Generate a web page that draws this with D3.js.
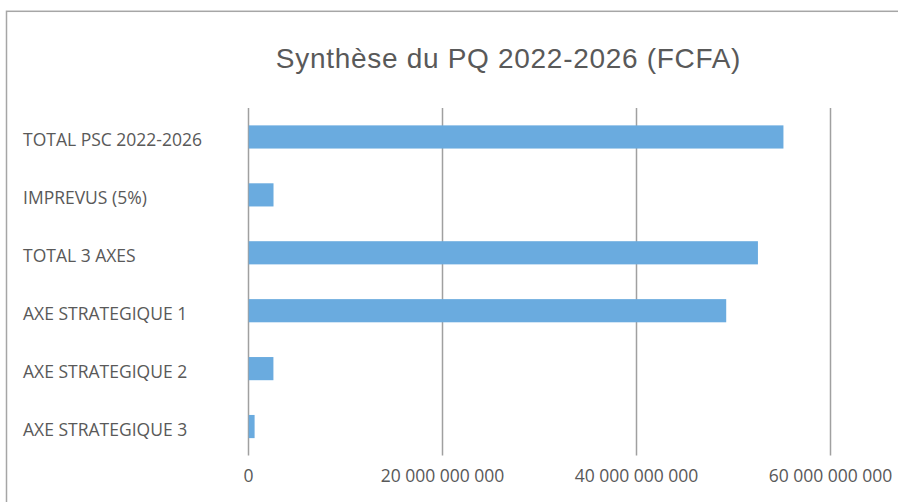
<!DOCTYPE html>
<html>
<head>
<meta charset="utf-8">
<script src="https://cdn.jsdelivr.net/npm/d3@7"></script>
<style>
  html, body { margin: 0; padding: 0; background: #ffffff; }
  svg { display: block; }
</style>
</head>
<body>
<svg id="chart" width="898" height="502"></svg>
<script>
// Budget synthesis of the 2022-2026 plan, in FCFA
const categories = [
  "TOTAL PSC 2022-2026",
  "IMPREVUS (5%)",
  "TOTAL 3 AXES",
  "AXE STRATEGIQUE 1",
  "AXE STRATEGIQUE 2",
  "AXE STRATEGIQUE 3"
];
const amounts = [55.2e9, 2.63e9, 52.57e9, 49.3e9, 2.62e9, 0.68e9];
const tickValues = [0, 20e9, 40e9, 60e9];
const titleText = "Synthèse du PQ 2022-2026 (FCFA)";

const svg = d3.select("#chart");
const textColor = "#595959";
const gridColor = "#a0a0a0";
const barColor = "#6aabdf";
const labelFont = "'Open Sans', sans-serif";

const plotTop = 108, plotBottom = 455.5, plotLeft = 248, plotRight = 830;

// chart frame
svg.append("rect")
  .attr("x", 6.5).attr("y", 11.3)
  .attr("width", 940).attr("height", 540)
  .attr("fill", "none")
  .attr("stroke", "#a6a6a6")
  .attr("stroke-width", 1.5);

const x = d3.scaleLinear().domain([0, 60e9]).range([plotLeft, plotRight]);
const y = d3.scaleBand().domain(categories).range([plotTop, plotBottom])
  .paddingInner(0.6).paddingOuter(0.3);

const locale = d3.formatLocale({ decimal: ",", thousands: " ", grouping: [3], currency: ["", ""] });
const fmt = locale.format(",");

// vertical gridlines + value labels
const xAxis = d3.axisBottom(x)
  .tickValues(tickValues)
  .tickSize(-(plotBottom - plotTop))
  .tickFormat(fmt);

const gx = svg.append("g")
  .attr("transform", `translate(0,${plotBottom})`)
  .call(xAxis);
gx.select(".domain").remove();
gx.selectAll(".tick line")
  .attr("stroke", gridColor)
  .attr("stroke-width", 1.5);
gx.selectAll(".tick text")
  .attr("y", 26.5)
  .attr("dy", 0)
  .attr("fill", textColor)
  .style("font-family", labelFont)
  .style("font-size", "17.5px");

// bars
svg.append("g")
  .selectAll("rect")
  .data(categories)
  .join("rect")
  .attr("x", x(0) + 0.75)
  .attr("y", d => y(d))
  .attr("width", (d, i) => x(amounts[i]) - x(0) - 0.75)
  .attr("height", y.bandwidth())
  .attr("fill", barColor);

// category labels
svg.append("g")
  .selectAll("text")
  .data(categories)
  .join("text")
  .attr("x", 23)
  .attr("y", d => y(d) + y.bandwidth() / 2 + 9.3)
  .attr("fill", textColor)
  .style("font-family", labelFont)
  .style("font-size", "17.5px")
  .text(d => d);

// title
svg.append("text")
  .attr("x", 508.5)
  .attr("y", 68.3)
  .attr("text-anchor", "middle")
  .attr("fill", textColor)
  .style("font-family", "'Liberation Sans', Arial, sans-serif")
  .style("font-size", "28px")
  .style("letter-spacing", "0.7px")
  .text(titleText);
</script>
</body>
</html>
